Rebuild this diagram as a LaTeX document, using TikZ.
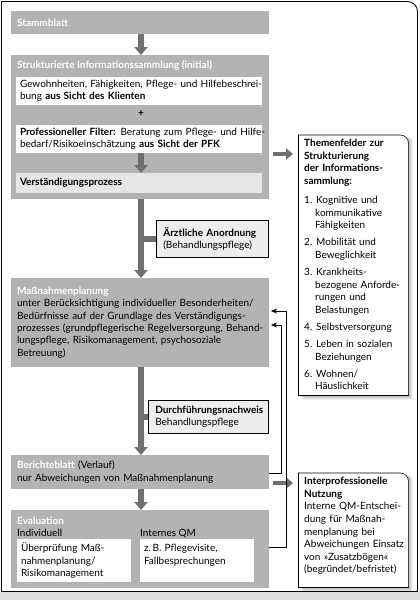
\documentclass[tikz,border=0pt]{standalone}
\usepackage{fontspec}
\setmainfont{Lato}
\usetikzlibrary{arrows.meta,calc}
\definecolor{boxgray}{HTML}{B3B3B3}
\definecolor{arrgray}{HTML}{6F6F6F}
\definecolor{lightf}{HTML}{E6E6E6}
\definecolor{notef}{HTML}{EDEDED}
\newcommand\fsz{\fontsize{10}{12.3}\selectfont}
\newcommand\nsz{\fontsize{10}{12.6}\selectfont}
\newcommand\lne[1]{\mbox{#1}}
\tikzset{
  gbox/.style={fill=boxgray, anchor=north west, inner sep=0pt, outer sep=0pt},
  txtbox/.style={anchor=north west, inner xsep=6pt, inner ysep=0pt, align=left, outer sep=0pt},
  wbox/.style={fill=white, anchor=north west, inner xsep=4pt, inner ysep=0pt, align=left, outer sep=0pt},
  ttl/.style={text=white, font=\fsz\bfseries, inner sep=0pt},
  plain/.style={font=\fsz, inner sep=0pt},
  nbox/.style={fill=notef, draw=black, line width=0.6pt, anchor=north west, inner xsep=7pt, inner ysep=0pt, align=left},
  garrow/.style={draw=arrgray, line width=5.5pt, -{Triangle[width=13pt,length=8pt]}},
  harrow/.style={draw=arrgray, line width=4.5pt, -{Triangle[width=11pt,length=7pt]}, shorten >=5pt},
  gstub/.style={draw=arrgray, line width=5.5pt},
  fb/.style={draw=black, line width=0.6pt, -{Stealth[length=6pt,width=5pt]}, shorten >=2pt},
  frame/.style={draw=black, line width=0.8pt},
  notefr/.style={draw=black, line width=0.6pt},
}
\begin{document}
\begin{tikzpicture}[x=1pt,y=-1pt, font=\fsz]
\useasboundingbox (0,0) rectangle (420,600);
\fill[white] (0,0) rectangle (420,600);
\fill[black!12] (0,592) rectangle (420,600);
% outer frame
\draw[frame, rounded corners=10pt] (1.5,1.5) -- (417.5,1.5) -- (417.5,591.5);
\draw[frame, line cap=rect] (417.5,591.5) -- (1.5,591.5) -- (1.5,1.5);

\coordinate (col) at (141,0);

% Stammblatt
\node[gbox, txtbox, minimum width=258pt, minimum height=23pt, text width=246pt, text=white, font=\fsz\bfseries] (stamm) at (11,11) {Stammblatt};

% Informationssammlung
\node[gbox, minimum width=258pt, minimum height=144pt] (info) at (11,55) {};
\node[ttl, anchor=base west] (infot) at (17,68) {Strukturierte Informationssammlung (initial)};
\node[wbox, minimum width=246pt, minimum height=28pt, text width=238pt] (w1) at (16,77)
  {\lne{Gewohnheiten, Fähigkeiten, Pflege- und Hilfebeschrei-}\\\lne{bung \textbf{aus Sicht des Klienten}}};
\node[plain, font=\fsz\bfseries] (plus) at (141,114) {+};
\node[wbox, minimum width=246pt, minimum height=28pt, text width=238pt] (w2) at (16,125)
  {\lne{\textbf{Professioneller Filter:} Beratung zum Pflege- und Hilfe-}\\\lne{bedarf/Risikoeinschätzung \textbf{aus Sicht der PFK}}};
\node[wbox, fill=lightf, minimum width=246pt, minimum height=20pt, text width=238pt, font=\fsz\bfseries] (vp) at (16,173)
  {Verständigungsprozess};

% Aerztliche Anordnung
\node[nbox, minimum width=112pt, minimum height=37pt, text width=98pt] (aerzt) at (156,220)
  {\lne{\textbf{Ärztliche Anordnung}}\\\lne{(Behandlungspflege)}};

% Massnahmenplanung
\node[gbox, txtbox, minimum width=258pt, minimum height=89pt, text width=246pt] (mass) at (11,278)
  {{\color{white}\bfseries Maßnahmenplanung}\\\lne{unter Berücksichtigung individueller Besonderheiten/}\\\lne{Bedürfnisse auf der Grundlage des Verständigungs-}\\\lne{prozesses (grundpflegerische Regelversorgung, Behand-}\\\lne{lungspflege, Risikomanagement, psychosoziale}\\Betreuung)};

% Durchfuehrungsnachweis
\node[nbox, minimum width=120pt, minimum height=33pt, text width=106pt] (durch) at (148,400)
  {\lne{\textbf{Durchführungsnachweis}}\\Behandlungspflege};

% Berichteblatt
\node[gbox, txtbox, minimum width=258pt, minimum height=34pt, text width=246pt] (bericht) at (11,455)
  {{\color{white}\bfseries Berichteblatt} (Verlauf)\\\lne{nur Abweichungen von Maßnahmenplanung}};

% Evaluation
\node[gbox, minimum width=258pt, minimum height=78pt] (eval) at (11,510) {};
\node[ttl, anchor=base west] (evalt) at (17,524) {Evaluation};
\node[plain, anchor=base west] (indiv) at (17,536) {Individuell};
\node[plain, anchor=base west] (iqm) at (140,536) {Internes QM};
\node[wbox, minimum width=114pt, minimum height=43pt, text width=106pt] (ev1) at (17,539)
  {Überprüfung Maß-\\nahmenplanung/\\Risikomanagement};
\node[wbox, minimum width=114pt, minimum height=43pt, text width=106pt] (ev2) at (140,539)
  {z.\,B. Pflegevisite,\\Fallbesprechungen\\\mbox{}};

% main arrows
\draw[garrow] (stamm.south -| col) -- (info.north -| col);
\draw[garrow] (w2.south -| col) -- (vp.north -| col);
\draw[garrow] (info.south -| col) -- (mass.north -| col);
\draw[gstub] (col |- aerzt.west) -- (aerzt.west);
\draw[garrow] (mass.south -| col) -- (bericht.north -| col);
\draw[gstub] (col |- durch.west) -- (durch.west);
\draw[garrow] (bericht.south -| col) -- (eval.north -| col);

% right notes: shadows
\foreach \o/\op in {5/0.05,4/0.06,3/0.07,2/0.08}{
  \fill[black, opacity=\op] (298+\o,135+\o) rectangle (408+\o,395+\o);
  \fill[black, opacity=\op] (298+\o,473+\o) rectangle (408+\o,587+\o);
}
\node[fill=white, anchor=north west, inner sep=0pt, minimum width=110pt, minimum height=260pt] (themen) at (298,135) {};
\draw[notefr, rounded corners=8pt] (themen.north west) -- (themen.north east) -- (themen.south east);
\draw[notefr, line cap=rect] (themen.south east) -- (themen.south west) -- (themen.north west);
\node[anchor=north west, inner sep=0pt, align=left, font=\nsz, text width=104pt] (thementxt) at (304,139)
  {\textbf{Themenfelder zur}\\\textbf{Strukturierung}\\\textbf{der Informations-}\\\textbf{sammlung:}\\[6.5pt]
   \makebox[12pt][l]{1.}Kognitive und\\\hspace*{11pt}kommunikative\\\hspace*{11pt}Fähigkeiten\\[4.5pt]
   \makebox[12pt][l]{2.}Mobilität und\\\hspace*{11pt}Beweglichkeit\\[4.5pt]
   \makebox[12pt][l]{3.}Krankheits-\\\hspace*{11pt}\lne{bezogene Anforde-}\\\hspace*{11pt}rungen und\\\hspace*{11pt}Belastungen\\[4.5pt]
   \makebox[12pt][l]{4.}Selbstversorgung\\[4.5pt]
   \makebox[12pt][l]{5.}\lne{Leben in sozialen}\\\hspace*{11pt}Beziehungen\\[4.5pt]
   \makebox[12pt][l]{6.}Wohnen/\\\hspace*{11pt}Häuslichkeit};

\node[fill=white, anchor=north west, inner sep=0pt, minimum width=110pt, minimum height=114pt] (inter) at (298,473) {};
\draw[notefr, rounded corners=8pt] (inter.north west) -- (inter.north east) -- (inter.south east);
\draw[notefr, line cap=rect] (inter.south east) -- (inter.south west) -- (inter.north west);
\node[anchor=north west, inner sep=0pt, align=left, font=\nsz, text width=106pt] (intertxt) at (304,477)
  {\textbf{Interprofessionelle}\\\textbf{Nutzung}\\\lne{Interne QM-Entschei-}\\dung für Maßnah-\\menplanung bei\\\lne{Abweichungen Einsatz}\\\lne{von »Zusatzbögen«}\\\lne{(begründet/befristet)}};

% gray arrows to the right
\coordinate (a1s) at (273,154);
\draw[harrow] (a1s) -- (a1s -| themen.west);
\coordinate (a2s) at (273,483);
\draw[harrow] (a2s) -- (a2s -| inter.west);

% feedback lines
\coordinate (fa1) at (286,547);
\coordinate (fa2) at (286,311);
\draw[fb] (eval.east |- fa1) -- (fa1) -- (fa2) -- (mass.east |- fa2);
\coordinate (fb1) at (281,473);
\coordinate (fb2) at (281,325);
\draw[fb] (bericht.east |- fb1) -- (fb1) -- (fb2) -- (mass.east |- fb2);
\end{tikzpicture}
\end{document}
